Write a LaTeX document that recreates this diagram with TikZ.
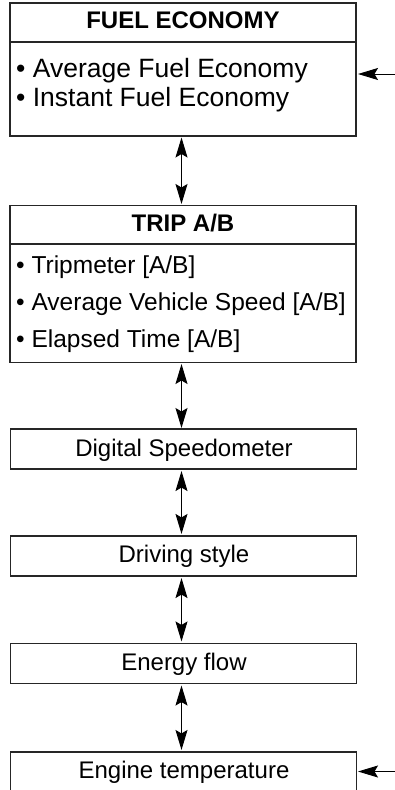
\documentclass[tikz,border=0pt]{standalone}
\usepackage{fontspec}
\setmainfont{Liberation Sans}
\usetikzlibrary{arrows.meta}
\tikzset{
  boxline/.style={draw=black!85, line width=1.1pt},
  ttl/.style={font=\fontsize{24}{26}\selectfont\bfseries, anchor=base, inner sep=0pt},
  itm/.style={anchor=base west, inner sep=0pt},
  lbl/.style={font=\fontsize{24}{26}\selectfont, anchor=base, inner sep=0pt},
  conn/.style={line width=1pt, {Stealth[length=20pt,width=12pt,inset=3.5pt]}-{Stealth[length=20pt,width=12pt,inset=3.5pt]}},
  inarrow/.style={line width=1pt, -{Stealth[length=20pt,width=12pt,inset=3.5pt]}}
}
\begin{document}
\begin{tikzpicture}[x=1pt,y=-1pt]
\useasboundingbox (0,0) rectangle (395,790);
\clip (0,0) rectangle (395,790);
\fill[white] (0,0) rectangle (395,790);
% box 1
\coordinate (b1tl) at (10,3);
\coordinate (b1br) at (356,136);
\draw[boxline] (b1tl) rectangle (b1br);
\draw[boxline] (10,42) -- (356,42);
\node[ttl] (t1) at (183,28.5) {FUEL ECONOMY};
\node[itm, font=\fontsize{26.5}{28}\selectfont] (i11) at (16,77) {• Average Fuel Economy};
\node[itm, font=\fontsize{26.5}{28}\selectfont] (i12) at (16,106) {• Instant Fuel Economy};
% box 2
\draw[boxline] (10,205.5) rectangle (356,362.5);
\draw[boxline] (10,244) -- (356,244);
\node[ttl] (t2) at (183,231.7) {TRIP A/B};
\node[itm, font=\fontsize{24.5}{26}\selectfont] (i21) at (16,273.3) {• Tripmeter [A/B]};
\node[itm, font=\fontsize{24.5}{26}\selectfont] (i22) at (16,310) {• Average Vehicle Speed [A/B]};
\node[itm, font=\fontsize{24.5}{26}\selectfont] (i23) at (16,347.3) {• Elapsed Time [A/B]};
% single boxes
\node[boxline, minimum width=346pt, minimum height=40pt, inner sep=0pt] (b3) at (183.5,449) {};
\node[boxline, minimum width=346pt, minimum height=40pt, inner sep=0pt] (b4) at (183.5,556) {};
\node[boxline, minimum width=346pt, minimum height=40pt, inner sep=0pt] (b5) at (183.5,663.5) {};
\node[boxline, minimum width=346pt, minimum height=40pt, inner sep=0pt] (b6) at (183.5,772) {};
\node[lbl] (l3) at (184,456) {Digital Speedometer};
\node[lbl] (l4) at (184,562.7) {Driving style};
\node[lbl] (l5) at (184,670) {Energy flow};
\node[lbl] (l6) at (184,778.3) {Engine temperature};
% helper coordinates for connectors
\coordinate (a1s) at (181.5,137.5);
\coordinate (a1e) at (181.5,204);
\coordinate (a2s) at (181.5,364);
\coordinate (a2e) at (181.5,428);
\coordinate (in1s) at (395,74);
\coordinate (in1e) at (358,74);
\coordinate (in2s) at (395,771.5);
\coordinate (in2e) at (358,771.5);
\draw[conn] (a1s) -- (a1e);
\draw[conn] (a2s) -- (a2e);
\draw[conn] ([yshift=-1.5pt]b3.south -| a1s) -- ([yshift=1.5pt]b4.north -| a1s);
\draw[conn] ([yshift=-1.5pt]b4.south -| a1s) -- ([yshift=1.5pt]b5.north -| a1s);
\draw[conn] ([yshift=-1.5pt]b5.south -| a1s) -- ([yshift=1.5pt]b6.north -| a1s);
\draw[inarrow] (in1s) -- (in1e);
\draw[inarrow] (in2s) -- (in2e);
\end{tikzpicture}
\end{document}
